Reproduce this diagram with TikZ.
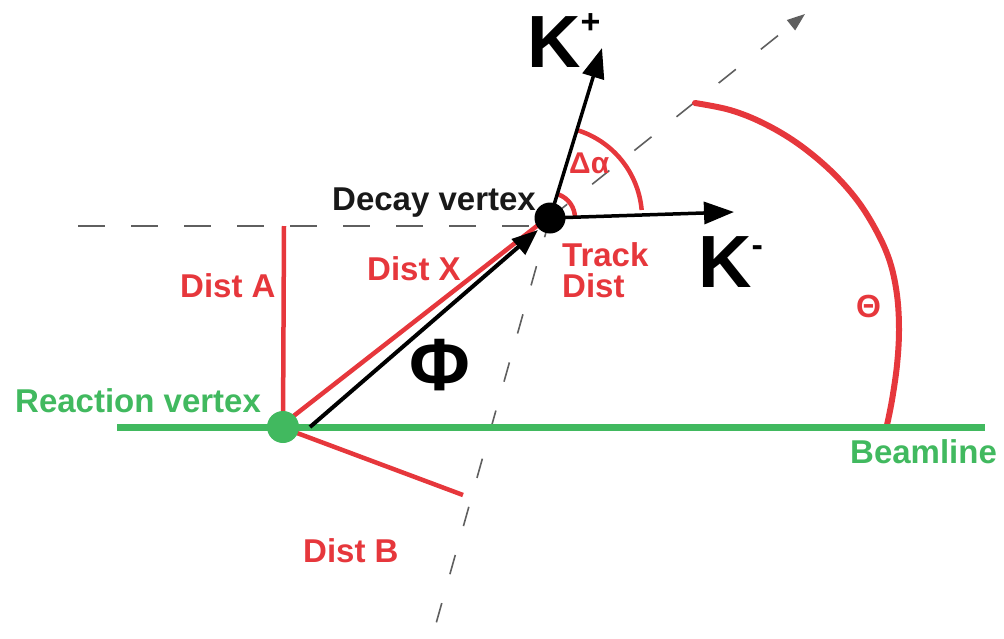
\documentclass[tikz,border=0pt]{standalone}
\usepackage{fontspec}
\setmainfont{Liberation Sans}
\usetikzlibrary{arrows.meta}
\definecolor{myred}{RGB}{230,55,60}
\definecolor{mygreen}{RGB}{65,185,95}
\definecolor{dashgray}{RGB}{95,95,95}
\definecolor{txtblack}{RGB}{25,25,25}
\begin{document}
\begin{tikzpicture}[x=1pt,y=-1pt,
  redline/.style={draw=myred, line width=4.5pt},
  thetaline/.style={draw=myred, line width=6pt, line cap=round},
  greenline/.style={draw=mygreen, line width=7pt},
  hguide/.style={draw=dashgray, line width=1.8pt, dash pattern=on 27pt off 26pt},
  guide/.style={draw=dashgray, line width=1.6pt, dash pattern=on 22pt off 32pt},
  karrow/.style={draw=black, line width=3.5pt, -{Triangle[length=30pt,width=22pt]}},
  phiarrow/.style={draw=black, line width=4pt, -{Triangle[length=26pt,width=20pt]}},
  lbl/.style={inner sep=0pt, font=\bfseries\fontsize{33}{31}\selectfont},
  biglbl/.style={inner sep=0pt, font=\bfseries\fontsize{74}{74}\selectfont},
  vdot/.style={circle, inner sep=0pt, minimum size=#1}
]
\useasboundingbox (0,0) rectangle (1004,638);

% vertices
\coordinate (rvc) at (283,427);
\coordinate (dvc) at (550,218);

% guide lines
\coordinate (hs) at (78,226);
\coordinate (he) at (535,226);
\coordinate (ftip) at (805,14);
\coordinate (bk) at (430,645);
\draw[hguide] (hs) -- (he);
\draw[guide, -{Triangle[length=18pt,width=13pt]}] (dvc) -- (ftip);
\draw[guide, dash pattern=on 20pt off 30pt] (dvc) -- (bk);

% red distances
\coordinate (dat) at (284,226);
\draw[redline] (dat) -- (rvc);
\coordinate (dxs) at (291,418);
\coordinate (dxe) at (542,222);
\draw[redline] (dxs) -- (dxe);
\coordinate (dbs) at (297,433);
\coordinate (dbe) at (463,495);
\draw[redline] (dbs) -- (dbe);

% angle arcs
\draw[redline] ([shift={(5:92pt)}]dvc) arc[start angle=5, end angle=73, radius=92pt];
\draw[redline] ([shift={(0:25pt)}]dvc) arc[start angle=0, end angle=70, radius=25pt];
\draw[thetaline] plot[smooth, tension=0.6] coordinates {(695,103) (730,110) (763,123) (797,143) (830,170) (857,200) (877,232) (890,262) (897,295) (899,330) (897,365) (892,400) (887,425)};

% beamline
\coordinate (bls) at (117,427);
\coordinate (ble) at (985,427);
\draw[greenline] (bls) -- (ble);
\node[vdot=32pt, fill=mygreen] (rv) at (rvc) {};

% black arrows
\coordinate (phs) at (310,427);
\coordinate (phe) at (538,230);
\draw[phiarrow] (phs) -- (phe);
\coordinate (kp) at (602,48);
\coordinate (km) at (734,212);
\draw[karrow] (dvc) -- (kp);
\draw[karrow] (dvc) -- (km);
\node[vdot=31pt, fill=black] (dv) at (dvc) {};

% labels
\node[lbl, text=txtblack, anchor=base west] (ldv) at (332,210) {Decay vertex};
\node[lbl, text=mygreen, anchor=base west] (lrv) at (15,412) {Reaction vertex};
\node[lbl, text=mygreen, anchor=base west] (lbl) at (850,463) {Beamline};
\node[lbl, text=myred, anchor=base west] (lda) at (180,297) {Dist A};
\node[lbl, text=myred, anchor=base west] (ldx) at (367,280) {Dist X};
\node[lbl, text=myred, anchor=base west] (ldb) at (303,562) {Dist B};
\node[lbl, text=myred, anchor=north west, align=left] (ltd) at (562,242) {Track\\Dist};
\node[inner sep=0pt, text=myred, anchor=base west, font=\bfseries\fontsize{30}{30}\selectfont] (lda2) at (569,173) {Δα};
\node[inner sep=0pt, text=myred, anchor=base west, font=\bfseries\fontsize{32}{32}\selectfont] (lth) at (856,317) {Θ};
\node[biglbl, anchor=base] (lphi) at (440,390) {Φ};
\node[biglbl, anchor=base west] (lkp) at (527,67) {K\raisebox{34pt}{\fontsize{34}{34}\selectfont +}};
\node[biglbl, anchor=base west] (lkm) at (698,287) {K\raisebox{31pt}{\fontsize{34}{34}\selectfont -}};
\end{tikzpicture}
\end{document}
